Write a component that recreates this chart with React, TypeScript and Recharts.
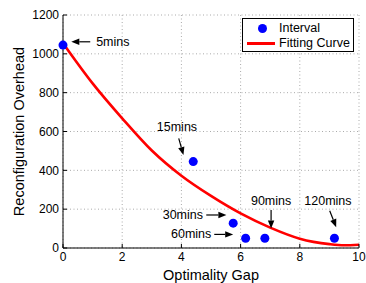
import { ComposedChart, Line, Scatter, XAxis, YAxis, CartesianGrid, ReferenceLine, ReferenceDot } from 'recharts'

const FONT = '"Liberation Sans", Arial, Helvetica, sans-serif'

const xTicks = [0, 2, 4, 6, 8, 10]
const yTicks = [0, 200, 400, 600, 800, 1000, 1200]

// measured intervals
const intervalX = [0, 4.4, 5.75, 6.17, 6.82, 9.17]
const intervalY = [1045, 445, 128, 50, 50, 50]

// fitting curve
const fitX = [0, 1, 2, 3, 4, 5, 6, 7, 8, 9, 9.5, 10]
const fitY = [1055, 848, 668, 502, 372, 268, 178, 105, 48, 20, 14, 17]

// annotations
const noteText = ['5mins', '15mins', '30mins', '60mins', '90mins', '120mins']
const noteX = [1.12, 3.85, 4.73, 5.01, 7.03, 8.95]
const noteY = [1062, 625, 170, 70, 242, 242]
const noteAnchor = ['start', 'middle', 'end', 'end', 'middle', 'middle']
const arrowFrom = [[0.92, 1062], [3.91, 565], [4.84, 170], [5.11, 70], [7.03, 196], [9.01, 192]]
const arrowTo = [[0.28, 1062], [4.07, 479], [5.52, 170], [5.75, 70], [7.03, 101], [9.23, 107]]

const scatterData = intervalX.map((x, i) => ({ x, y: intervalY[i] }))
const fitData = fitX.map((x, i) => ({ x, y: fitY[i] }))

function Arrow(props: any) {
  const { x1, y1, x2, y2 } = props
  const dx = x2 - x1
  const dy = y2 - y1
  const len = Math.sqrt(dx * dx + dy * dy) || 1
  const ux = dx / len
  const uy = dy / len
  const hl = 8
  const hw = 3.2
  const bx = x2 - ux * hl
  const by = y2 - uy * hl
  const pts = `${x2},${y2} ${bx - uy * hw},${by + ux * hw} ${bx + uy * hw},${by - ux * hw}`
  return (
    <g>
      <line x1={x1} y1={y1} x2={bx} y2={by} stroke="#000" strokeWidth={1.2} />
      <polygon points={pts} fill="#000" />
    </g>
  )
}

function NoteLabel(text: string, anchor: string) {
  return (props: any) => (
    <text x={props.cx} y={props.cy} textAnchor={anchor} dominantBaseline="central"
      fontSize={12.5} fontFamily={FONT} fill="#000">{text}</text>
  )
}

export default function App() {
  return (
    <div style={{ position: 'absolute', left: 0, top: 0, width: 366, height: 283, background: '#fff' }}>
      <ComposedChart width={366} height={283} margin={{ top: 15, right: 7, bottom: 0, left: 13 }}>
        <CartesianGrid stroke="#aaa" strokeDasharray="1 2.5" />
        <XAxis
          type="number"
          dataKey="x"
          domain={[0, 10]}
          ticks={xTicks}
          height={35}
          stroke="#000"
          tickSize={-4}
          tickMargin={8}
          tick={{ fill: '#000', fontSize: 12, fontFamily: FONT }}
          label={{ value: 'Optimality Gap', position: 'insideBottom', offset: 3, fill: '#000', fontSize: 14.5, fontFamily: FONT }}
        />
        <YAxis
          type="number"
          dataKey="y"
          domain={[0, 1200]}
          ticks={yTicks}
          width={50}
          stroke="#000"
          tickSize={-4}
          tickMargin={8}
          tick={{ fill: '#000', fontSize: 12, fontFamily: FONT }}
          label={{ value: 'Reconfiguration Overhead', angle: -90, position: 'insideLeft', offset: 6, textAnchor: 'middle', fill: '#000', fontSize: 14.5, fontFamily: FONT }}
        />
        <Line data={fitData} dataKey="y" type="monotone" stroke="#ff0000" strokeWidth={2.6} dot={false} activeDot={false} isAnimationActive={false} />
        <Scatter data={scatterData} dataKey="y" fill="#0000ff" isAnimationActive={false}
          shape={(p: any) => <circle cx={p.cx} cy={p.cy} r={4.5} fill="#0000ff" />} />
        {noteText.map((t, i) => (
          <ReferenceLine key={'a' + t} ifOverflow="visible"
            segment={[{ x: arrowFrom[i][0], y: arrowFrom[i][1] }, { x: arrowTo[i][0], y: arrowTo[i][1] }]}
            shape={Arrow} />
        ))}
        {noteText.map((t, i) => (
          <ReferenceDot key={'t' + t} x={noteX[i]} y={noteY[i]} r={0} ifOverflow="visible"
            shape={NoteLabel(t, noteAnchor[i])} />
        ))}
      </ComposedChart>
      <div style={{ position: 'absolute', left: 242, top: 18, width: 110, height: 32, border: '1.3px solid #000', background: '#fff', fontFamily: FONT, fontSize: 12.5, color: '#000' }}>
        <div style={{ position: 'absolute', left: 15, top: 5, width: 9, height: 9, borderRadius: '50%', background: '#0000ff' }} />
        <div style={{ position: 'absolute', left: 36, top: 1, lineHeight: '16px' }}>Interval</div>
        <div style={{ position: 'absolute', left: 4, top: 23, width: 28, height: 2.6, background: '#ff0000' }} />
        <div style={{ position: 'absolute', left: 36, top: 16, lineHeight: '16px' }}>Fitting Curve</div>
      </div>
    </div>
  )
}
